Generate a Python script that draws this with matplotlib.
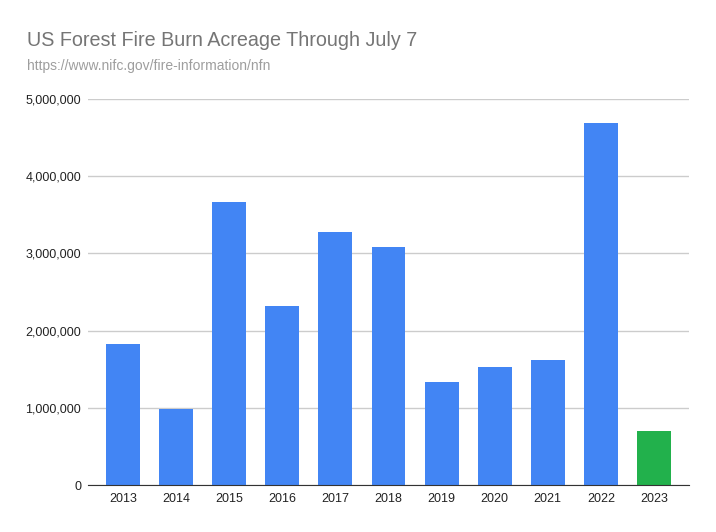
import numpy as np
import matplotlib.pyplot as plt
from matplotlib.ticker import FuncFormatter

years = ['2013', '2014', '2015', '2016', '2017', '2018', '2019', '2020',
         '2021', '2022', '2023']
acres = [1823000, 984000, 3666000, 2315000, 3277000, 3083000, 1332000,
         1525000, 1619000, 4685000, 696000]
bar_colours = ['#4285f4'] * 10 + ['#22b14c']

plt.rcParams['font.family'] = ['Liberation Sans', 'DejaVu Sans']

fig = plt.figure(figsize=(7.16, 5.32), dpi=100)
ax = fig.add_axes([88/716, 1-485/532, (689-88)/716, (485-99)/532])

x = np.arange(len(years))
ax.bar(x, acres, width=0.64, color=bar_colours, zorder=3)

ax.set_xlim(-0.66, 10.66)
ax.set_ylim(0, 5000000)
ax.set_yticks(np.arange(0, 5000001, 1000000))
ax.yaxis.set_major_formatter(FuncFormatter(lambda v, p: f'{int(v):,}'))
ax.set_xticks(x)
ax.set_xticklabels(years)

ax.grid(axis='y', color='#cccccc', lw=1, zorder=0)
for s in ('top', 'right', 'left'):
    ax.spines[s].set_visible(False)
ax.spines['bottom'].set_color('#333333')
ax.spines['bottom'].set_zorder(4)
ax.tick_params(axis='both', length=0, labelsize=9, labelcolor='#222222')
ax.tick_params(axis='y', pad=5)
ax.tick_params(axis='x', pad=6)

fig.text(27/716, 1-40/532, 'US Forest Fire Burn Acreage Through July 7',
         fontsize=14.2, color='#757575', va='center', ha='left')
fig.text(27/716, 1-66/532, 'https://www.nifc.gov/fire-information/nfn',
         fontsize=10, color='#9e9e9e', va='center', ha='left')

plt.savefig('out.png', dpi=100)
